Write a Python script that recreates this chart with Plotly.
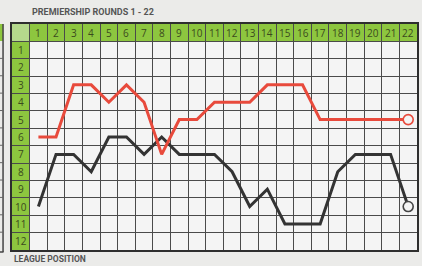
import plotly.graph_objects as go

rounds = list(range(1, 23))
positions = list(range(1, 13))
red_team = [6, 6, 3, 3, 4, 3, 4, 7, 5, 5, 4, 4, 4, 3, 3, 3, 5, 5, 5, 5, 5, 5]
black_team = [10, 7, 7, 8, 6, 6, 7, 6, 7, 7, 7, 8, 10, 9, 11, 11, 11, 8, 7, 7, 7, 10]

title_text = "PREMIERSHIP ROUNDS 1 - 22"
ylabel_text = "LEAGUE POSITION"

W, H = 422, 266
ML, MR, MT, MB = 12, 3, 24, 16
PW, PH = W - ML - MR, H - MT - MB

GREEN = "#8dc63f"
GREEN_LIGHT = "#b5d98c"
LABEL_COL = "#3b4a1e"
GRID = "#4a4a4a"

fig = go.Figure()

# black team line
fig.add_trace(go.Scatter(
    x=rounds, y=black_team, mode="lines",
    line=dict(color="#333333", width=3), hoverinfo="skip", showlegend=False))
fig.add_trace(go.Scatter(
    x=rounds[-1:], y=black_team[-1:], mode="markers",
    marker=dict(symbol="circle", size=10, color="#f4f4f4",
                line=dict(color="#444444", width=1.6)),
    hoverinfo="skip", showlegend=False))
# red team line
fig.add_trace(go.Scatter(
    x=rounds, y=red_team, mode="lines",
    line=dict(color="#e84a3c", width=3), hoverinfo="skip", showlegend=False))
fig.add_trace(go.Scatter(
    x=rounds[-1:], y=red_team[-1:], mode="markers",
    marker=dict(symbol="circle", size=10, color="#f4f4f4",
                line=dict(color="#e84a3c", width=1.6)),
    hoverinfo="skip", showlegend=False))

shapes = []
# header row (green) and label column
shapes.append(dict(type="rect", xref="x", yref="y", x0=0.5, x1=22.5, y0=-0.5, y1=0.5,
                   fillcolor=GREEN, line=dict(width=0), layer="below"))
shapes.append(dict(type="rect", xref="x", yref="y", x0=-0.5, x1=0.5, y0=0.5, y1=12.5,
                   fillcolor=GREEN, line=dict(width=0), layer="below"))
shapes.append(dict(type="rect", xref="x", yref="y", x0=-0.5, x1=0.5, y0=-0.5, y1=0.5,
                   fillcolor=GREEN_LIGHT, line=dict(width=0), layer="below"))


def px_x(p):
    return (p - ML) / PW


def px_y(p):
    return 1 - (p - MT) / PH


# neighbouring table cut off at the left edge
shapes.append(dict(type="rect", xref="paper", yref="paper", x0=px_x(-2), x1=px_x(3),
                   y0=px_y(41), y1=px_y(24), fillcolor=GREEN, line=dict(width=0)))
shapes.append(dict(type="line", xref="paper", yref="paper", x0=px_x(3), x1=px_x(3),
                   y0=px_y(24), y1=px_y(252), line=dict(color="#444444", width=1.5)))
shapes.append(dict(type="line", xref="paper", yref="paper", x0=px_x(-2), x1=px_x(3.5),
                   y0=px_y(252), y1=px_y(252), line=dict(color="#444444", width=1.5)))
for i in range(1, 12):
    yy = 41 + i * 17.38
    shapes.append(dict(type="line", xref="paper", yref="paper", x0=px_x(-2), x1=px_x(3),
                       y0=px_y(yy), y1=px_y(yy), line=dict(color="#666666", width=1)))

annotations = []
for r in rounds:
    annotations.append(dict(x=r, y=0, xref="x", yref="y", text=str(r), showarrow=False,
                            font=dict(family="Open Sans", size=10, color=LABEL_COL)))
for p in positions:
    annotations.append(dict(x=0, y=p, xref="x", yref="y", text=str(p), showarrow=False,
                            font=dict(family="Open Sans", size=10, color=LABEL_COL)))
annotations.append(dict(x=px_x(30), y=px_y(12), xref="paper", yref="paper", text="<b>" + title_text + "</b>",
                        showarrow=False, xanchor="left", yanchor="middle",
                        font=dict(family="Liberation Sans Narrow, Roboto, sans-serif", size=9, color="#555555")))
annotations.append(dict(x=px_x(12), y=px_y(259), xref="paper", yref="paper", text="<b>" + ylabel_text + "</b>",
                        showarrow=False, xanchor="left", yanchor="middle",
                        font=dict(family="Liberation Sans Narrow, Roboto, sans-serif", size=8.5, color="#555555")))

fig.update_layout(
    width=W, height=H,
    margin=dict(l=ML, r=MR, t=MT, b=MB, pad=0),
    paper_bgcolor="#ebebe9",
    plot_bgcolor="#f4f4f4",
    shapes=shapes,
    annotations=annotations,
    showlegend=False,
)
fig.update_xaxes(range=[-0.5, 22.5], tickvals=[i + 0.5 for i in range(0, 22)],
                 showticklabels=False, ticks="", showgrid=True, gridcolor=GRID, gridwidth=1.4,
                 zeroline=False, showline=True, linecolor="#2e2e2e", linewidth=2.2, mirror=True,
                 fixedrange=True)
fig.update_yaxes(range=[12.5, -0.5], tickvals=[i + 0.5 for i in range(0, 12)],
                 showticklabels=False, ticks="", showgrid=True, gridcolor=GRID, gridwidth=1.4,
                 zeroline=False, showline=True, linecolor="#2e2e2e", linewidth=2.2, mirror=True,
                 fixedrange=True)

fig.write_html("out.html", config={"displayModeBar": False},
               post_script="document.body.style.margin='0';document.body.style.padding='0';"
                           "document.body.style.background='#ebebe9';")
